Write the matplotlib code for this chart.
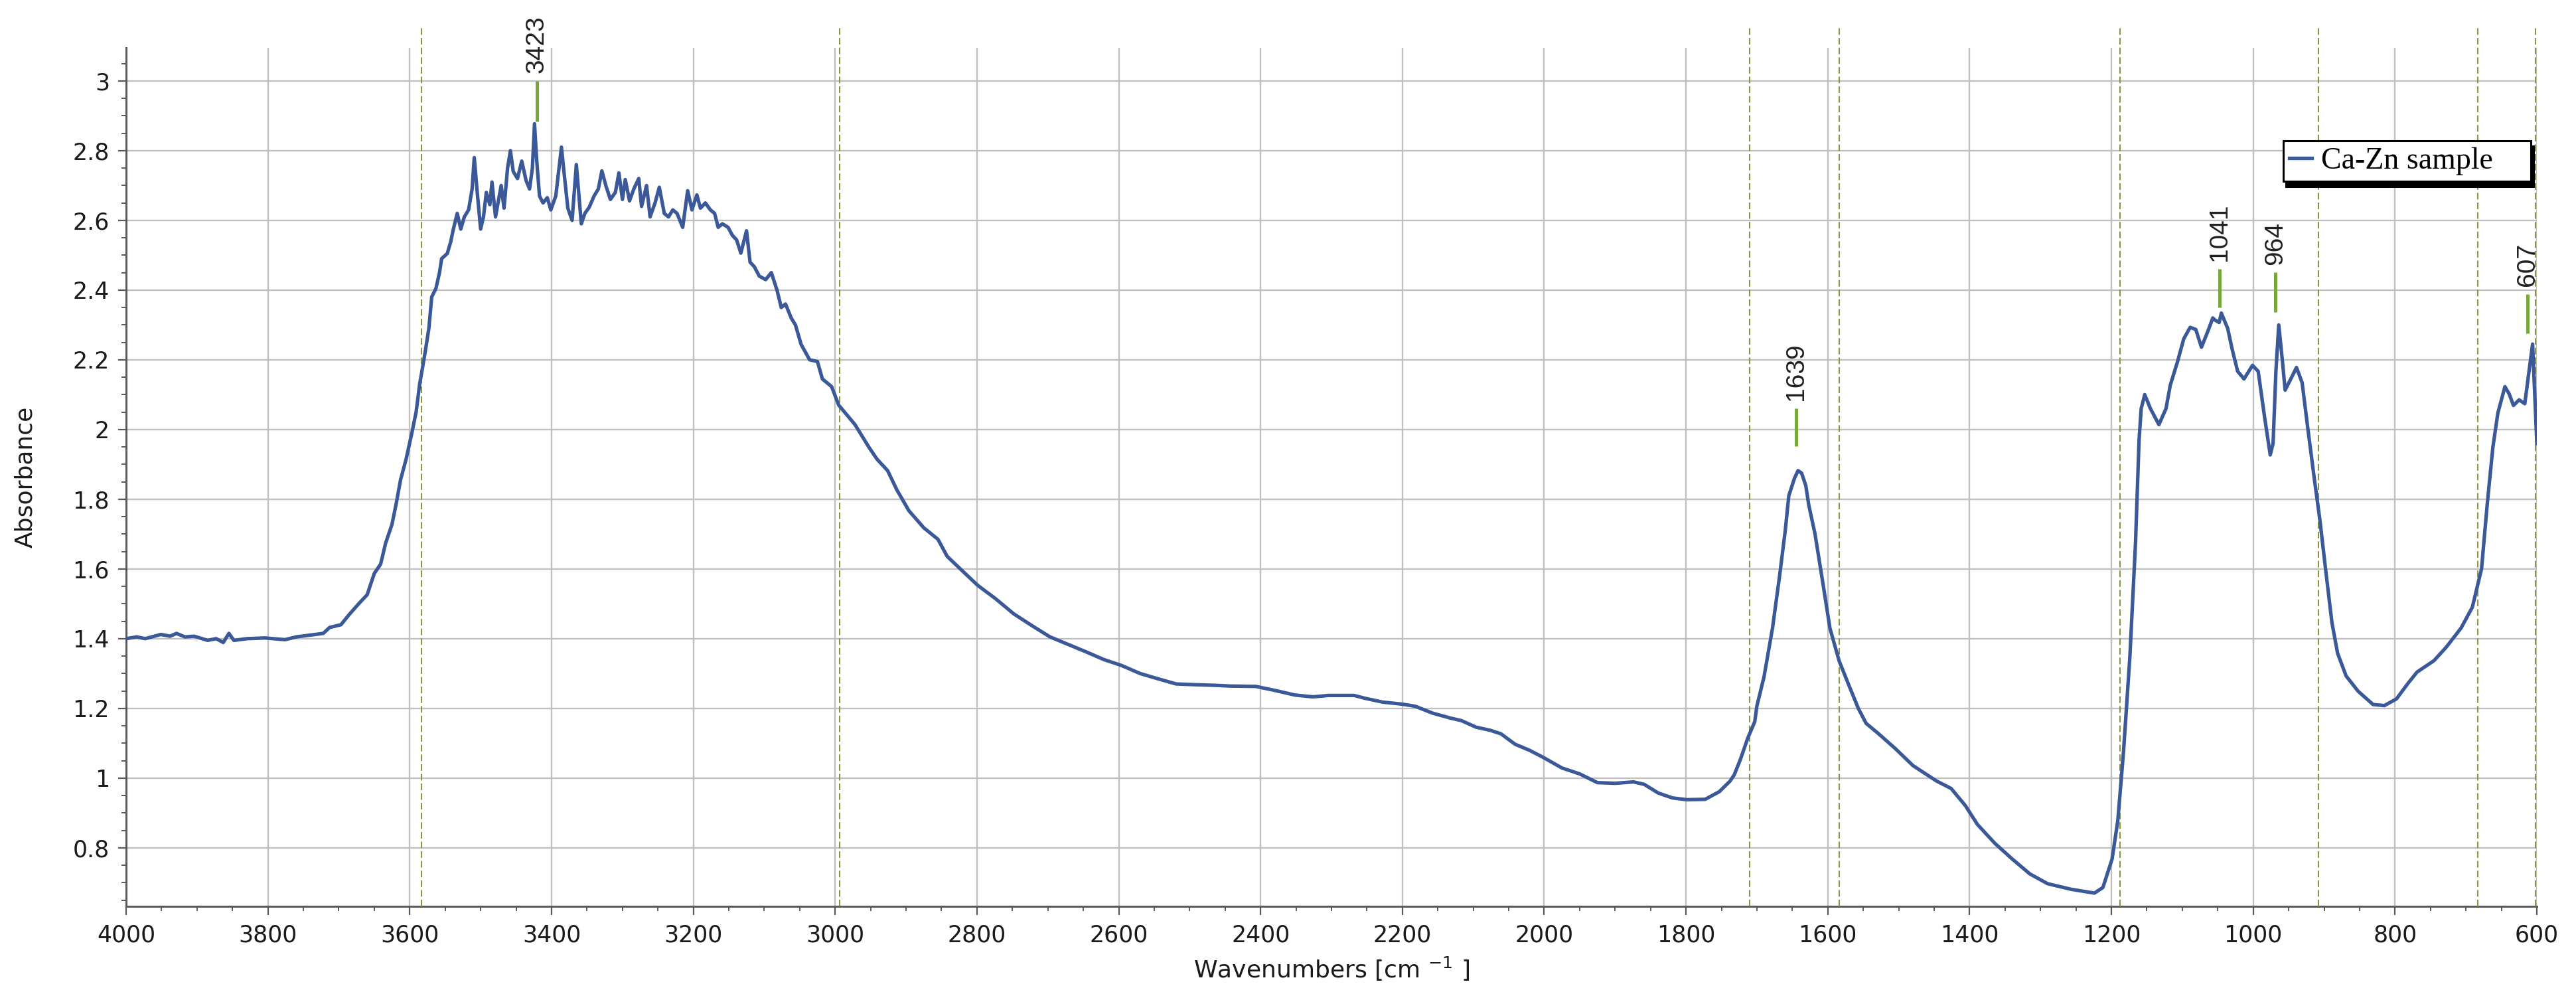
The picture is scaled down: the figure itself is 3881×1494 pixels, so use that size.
import matplotlib
matplotlib.use('Agg')
import matplotlib.pyplot as plt
from matplotlib.ticker import MultipleLocator, FuncFormatter, FixedLocator

# ---------------- data ----------------
wavenumber = [
    4000, 3985, 3973, 3951, 3938, 3929, 3917, 3904, 3885, 3873, 3863, 3855, 3848, 3829, 3804,
    3776, 3760, 3741, 3722, 3713, 3697, 3685, 3672, 3660, 3650, 3641, 3634, 3625, 3619, 3613,
    3605, 3597, 3591, 3586, 3583, 3578, 3573, 3569, 3563, 3558, 3555, 3547, 3542, 3539, 3533,
    3528, 3523, 3517, 3512, 3509, 3505, 3500, 3496, 3492, 3487, 3484, 3479, 3471, 3467, 3462,
    3458, 3454, 3448, 3442, 3436, 3431, 3427, 3424, 3421, 3417, 3412, 3406, 3401, 3394, 3386,
    3382, 3377, 3371, 3365, 3358, 3353, 3347, 3340, 3334, 3329, 3323, 3317, 3310, 3305, 3300,
    3296, 3290, 3284, 3277, 3273, 3266, 3261, 3254, 3248, 3241, 3235, 3229, 3223, 3215, 3208,
    3202, 3195, 3190, 3183, 3176, 3170, 3165, 3159, 3151, 3145, 3139, 3133, 3125, 3120, 3114,
    3107, 3098, 3090, 3082, 3076, 3070, 3062, 3056, 3048, 3036, 3025, 3018, 3005, 2995, 2972,
    2952, 2941, 2926, 2913, 2896, 2875, 2855, 2842, 2825, 2799, 2774, 2748, 2723, 2697, 2672,
    2646, 2621, 2596, 2570, 2545, 2519, 2494, 2463, 2443, 2407, 2381, 2351, 2326, 2304, 2268,
    2253, 2228, 2200, 2182, 2157, 2132, 2117, 2096, 2076, 2061, 2041, 2021, 2001, 1975, 1950,
    1925, 1900, 1874, 1859, 1839, 1819, 1799, 1773, 1753, 1738, 1732, 1723, 1713, 1703, 1700,
    1690, 1678, 1668, 1660, 1655, 1647, 1642, 1637, 1631, 1627, 1618, 1607, 1597, 1584, 1573,
    1557, 1546, 1530, 1505, 1480, 1447, 1426, 1406, 1389, 1364, 1340, 1315, 1290, 1257, 1224,
    1212, 1199, 1191, 1183, 1174, 1166, 1161, 1158, 1153, 1145, 1133, 1123, 1117, 1107, 1098,
    1089, 1081, 1073, 1063, 1057, 1054, 1048, 1045, 1036, 1030, 1022, 1013, 1001, 993, 984,
    976, 972, 968, 964, 959, 955, 947, 939, 931, 923, 914, 906, 898, 889, 881,
    869, 852, 831, 815, 798, 782, 769, 745, 728, 707, 691, 678, 670, 662, 655,
    645, 639, 633, 625, 617, 611, 606, 602, 600,
]
absorbance = [
    1.400, 1.405, 1.400, 1.412, 1.407, 1.415, 1.405, 1.407, 1.395, 1.400, 1.389, 1.415, 1.395, 1.400, 1.402,
    1.397, 1.405, 1.410, 1.415, 1.432, 1.440, 1.470, 1.500, 1.526, 1.587, 1.614, 1.674, 1.728, 1.788, 1.855,
    1.916, 1.990, 2.050, 2.130, 2.165, 2.225, 2.290, 2.380, 2.405, 2.450, 2.490, 2.505, 2.540, 2.570, 2.620,
    2.575, 2.610, 2.630, 2.690, 2.780, 2.685, 2.575, 2.610, 2.680, 2.645, 2.710, 2.610, 2.700, 2.635, 2.750,
    2.800, 2.740, 2.720, 2.770, 2.715, 2.690, 2.750, 2.877, 2.775, 2.670, 2.650, 2.665, 2.630, 2.670, 2.810,
    2.730, 2.635, 2.600, 2.760, 2.590, 2.620, 2.637, 2.670, 2.690, 2.742, 2.697, 2.660, 2.680, 2.736, 2.660,
    2.717, 2.656, 2.690, 2.720, 2.640, 2.700, 2.610, 2.650, 2.695, 2.620, 2.610, 2.630, 2.620, 2.580, 2.685,
    2.630, 2.673, 2.635, 2.650, 2.630, 2.620, 2.580, 2.590, 2.580, 2.557, 2.544, 2.506, 2.570, 2.480, 2.467,
    2.440, 2.430, 2.450, 2.400, 2.350, 2.360, 2.320, 2.300, 2.244, 2.200, 2.195, 2.145, 2.123, 2.070, 2.014,
    1.948, 1.915, 1.882, 1.827, 1.767, 1.718, 1.685, 1.636, 1.603, 1.553, 1.515, 1.471, 1.438, 1.405, 1.384,
    1.362, 1.340, 1.323, 1.300, 1.285, 1.270, 1.268, 1.266, 1.264, 1.263, 1.252, 1.238, 1.233, 1.237, 1.237,
    1.229, 1.218, 1.212, 1.206, 1.186, 1.172, 1.165, 1.146, 1.137, 1.127, 1.097, 1.080, 1.059, 1.029, 1.012,
    0.987, 0.985, 0.989, 0.982, 0.957, 0.943, 0.938, 0.939, 0.961, 0.991, 1.009, 1.055, 1.114, 1.162, 1.207,
    1.290, 1.430, 1.580, 1.710, 1.810, 1.860, 1.882, 1.875, 1.839, 1.785, 1.700, 1.560, 1.430, 1.336, 1.280,
    1.200, 1.157, 1.130, 1.085, 1.036, 0.992, 0.970, 0.921, 0.867, 0.812, 0.768, 0.725, 0.697, 0.681, 0.670,
    0.686, 0.768, 0.878, 1.074, 1.347, 1.675, 1.970, 2.060, 2.100, 2.060, 2.014, 2.060, 2.127, 2.193, 2.260,
    2.293, 2.287, 2.236, 2.287, 2.320, 2.314, 2.307, 2.334, 2.290, 2.233, 2.167, 2.145, 2.184, 2.167, 2.036,
    1.927, 1.960, 2.167, 2.300, 2.200, 2.113, 2.145, 2.178, 2.134, 2.003, 1.861, 1.741, 1.600, 1.446, 1.358,
    1.293, 1.249, 1.211, 1.208, 1.227, 1.271, 1.304, 1.337, 1.375, 1.430, 1.490, 1.600, 1.785, 1.949, 2.047,
    2.123, 2.102, 2.069, 2.085, 2.074, 2.167, 2.245, 2.058, 1.960,
]

series_label = 'Ca-Zn sample'

peak_labels = ['3423', '1639', '1041', '964', '607']
peak_marker_x = [3421, 1645, 1047, 969, 613]
peak_marker_bottom = [2.884, 1.952, 2.350, 2.337, 2.276]
peak_marker_top = [3.000, 2.061, 2.461, 2.451, 2.389]

region_lines = [3583, 2994, 1710, 1584, 1188, 908, 683, 602]

x_ticks = list(range(4000, 599, -200))
y_ticks = [0.8, 1.0, 1.2, 1.4, 1.6, 1.8, 2.0, 2.2, 2.4, 2.6, 2.8, 3.0]

x_label = 'Wavenumbers [cm $^{-1}$ ]'
y_label = 'Absorbance'

# ---------------- figure ----------------
W, H = 3881, 1494
fig = plt.figure(figsize=(W / 100, H / 100), dpi=100)
ax = fig.add_axes([190 / W, 1 - 1365 / H, 3632 / W, 1293 / H])

YMIN, YMAX = 0.632, 3.095
LINE_TOP = 3.156

line_color = '#3b5998'
ax.plot(wavenumber, absorbance, color=line_color, lw=3.8, label=series_label, zorder=4)

for xv in region_lines:
    ax.plot([xv, xv], [YMIN, LINE_TOP], color='#8b9440', lw=1.5,
            linestyle=(0, (4.8, 2.2)), clip_on=False, zorder=3)

for lab, xv, y0, y1 in zip(peak_labels, peak_marker_x, peak_marker_bottom, peak_marker_top):
    ax.plot([xv, xv], [y0, y1], color='#76a83c', lw=3.6, clip_on=False, zorder=5,
            solid_capstyle='butt')
    ax.text(xv, y1 + 0.022, lab, rotation=90, ha='center', va='bottom',
            fontsize=28, family=['Liberation Sans', 'DejaVu Sans'], color='#202020',
            clip_on=False, zorder=6)

ax.set_xlim(4000, 600)
ax.set_ylim(YMIN, YMAX)

ax.xaxis.set_major_locator(FixedLocator(x_ticks))
ax.xaxis.set_minor_locator(MultipleLocator(50))
ax.yaxis.set_major_locator(FixedLocator(y_ticks))
ax.yaxis.set_minor_locator(MultipleLocator(0.05))
ax.yaxis.set_major_formatter(FuncFormatter(lambda v, p: ('%.1f' % v).rstrip('0').rstrip('.')))
ax.xaxis.set_major_formatter(FuncFormatter(lambda v, p: '%d' % round(v)))

ax.grid(True, which='major', color='#c0c0c0', lw=1.7)
ax.set_axisbelow(True)

for s in ['top', 'right']:
    ax.spines[s].set_visible(False)
for s in ['left', 'bottom']:
    ax.spines[s].set_color('#5a5a5a')
    ax.spines[s].set_linewidth(2.2)

ax.tick_params(which='major', direction='out', length=9, width=1.6, color='#5a5a5a',
               labelsize=25, labelcolor='#1a1a1a')
ax.tick_params(axis='x', which='major', pad=10)
ax.tick_params(axis='y', which='major', pad=9)
ax.tick_params(which='minor', direction='out', length=5, width=1.4, color='#5a5a5a')

ax.set_xlabel(x_label, fontsize=26, color='#1a1a1a')
ax.xaxis.set_label_coords(0.5, -0.057)
ax.set_ylabel(y_label, fontsize=26, color='#1a1a1a')
ax.yaxis.set_label_coords(-0.037, 0.5)

leg = ax.legend(loc='upper left', bbox_to_anchor=(0.8948, 0.8417, 0.1027, 0.05),
                mode='expand', borderaxespad=0, frameon=True, fancybox=False,
                framealpha=1, borderpad=0.2, handlelength=0.75, handletextpad=0.3,
                prop={'family': ['Liberation Serif', 'DejaVu Serif'], 'size': 33},
                shadow={'ox': 3, 'oy': -6, 'facecolor': 'black', 'edgecolor': 'black', 'alpha': 1})
leg.get_frame().set_edgecolor('black')
leg.get_frame().set_linewidth(2.2)
leg.get_frame().set_facecolor('white')
leg.set_zorder(10)

fig.savefig('out.png', dpi=100, facecolor='white')
